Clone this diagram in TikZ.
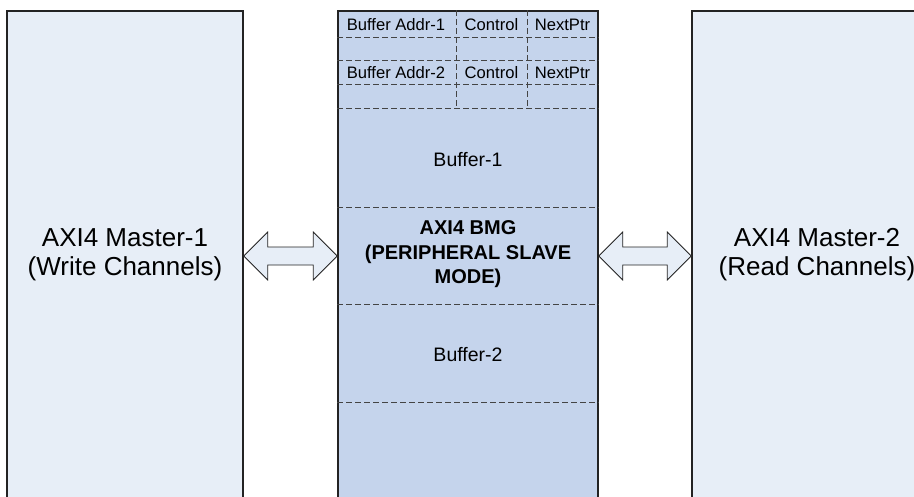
\documentclass[tikz,border=0pt]{standalone}
\usepackage{fontspec}
\setmainfont{Liberation Sans}
\usetikzlibrary{calc}

\definecolor{sidefill}{HTML}{E7EEF7}
\definecolor{bmgfill}{HTML}{C5D4EC}
\definecolor{edge}{HTML}{232323}

% block arrow with a head at both ends, #1 = left tip, #2 = right tip
\newcommand{\biarrow}[2]{%
  \draw[blockarrow] (#1) -- ++(24,-24) -- ++(0,15) -- ($(#2)+(-24,-9)$)
    -- ++(0,-15) -- (#2) -- ++(-24,24) -- ++(0,-15) -- ($(#1)+(24,9)$)
    -- ++(0,15) -- cycle;}

\begin{document}
\begin{tikzpicture}[x=1pt,y=-1pt,
  master/.style={draw=edge, line width=1.5pt, fill=sidefill, inner sep=0pt,
    minimum width=#1, minimum height=487pt, align=center,
    font=\fontsize{26}{29}\selectfont},
  bmgbox/.style={draw=edge, line width=1.5pt, fill=bmgfill, inner sep=0pt,
    minimum width=260pt, minimum height=487pt, align=center,
    font=\bfseries\fontsize{20}{24.5}\selectfont},
  divider/.style={draw=edge!85, line width=0.9pt, dash pattern=on 6pt off 3pt},
  cell/.style={inner sep=0pt, font=\fontsize{16.6}{18}\selectfont},
  buffer/.style={inner sep=0pt, font=\fontsize{19.5}{22}\selectfont},
  blockarrow/.style={draw=edge, line width=0.8pt, fill=sidefill, line join=miter}]

  % Fix the page and cut what runs past its bottom
  \useasboundingbox (0,0) rectangle (914,496);
  \clip (0,0) rectangle (914,496);

  % Draw the masters and the memory
  \node[master=236pt] (m1) at (125,254.5) {AXI4 Master-1\\(Write Channels)};
  \node[master=250pt] (m2) at (817,254.5) {AXI4 Master-2\\(Read Channels)};
  \node[bmgbox] (bmg) at (468,254.5) {AXI4 BMG\\(PERIPHERAL SLAVE\\MODE)};

  % Draw the dashed rows and columns of the memory
  \foreach \y in {37,60,84,108,207,304,402}
    \draw[divider] (bmg.west |- 0,\y) -- (bmg.east |- 0,\y);
  \foreach \x in {456,527}
    \draw[divider] (\x,0 |- bmg.north) -- (\x,108);

  % Descriptor texts
  \foreach \n/\y in {1/25,2/73} {
    \node[cell] (addr\n) at (396,\y) {Buffer Addr-\n};
    \node[cell] (ctrl\n) at (491.5,\y) {Control};
    \node[cell] (next\n) at (562.5,\y) {NextPtr};
  }
  \node[buffer] (buf1) at (468,160) {Buffer-1};
  \node[buffer] (buf2) at (468,355) {Buffer-2};

  % Draw the arrows between the masters and the memory
  \coordinate (a1) at ($(m1.east)+(0,1.5)$);
  \coordinate (a2) at ($(bmg.west)+(0,1.5)$);
  \coordinate (a3) at ($(bmg.east)+(0,1.5)$);
  \coordinate (a4) at ($(m2.west)+(0,1.5)$);
  \biarrow{a1}{a2}
  \biarrow{a3}{a4}

\end{tikzpicture}
\end{document}
